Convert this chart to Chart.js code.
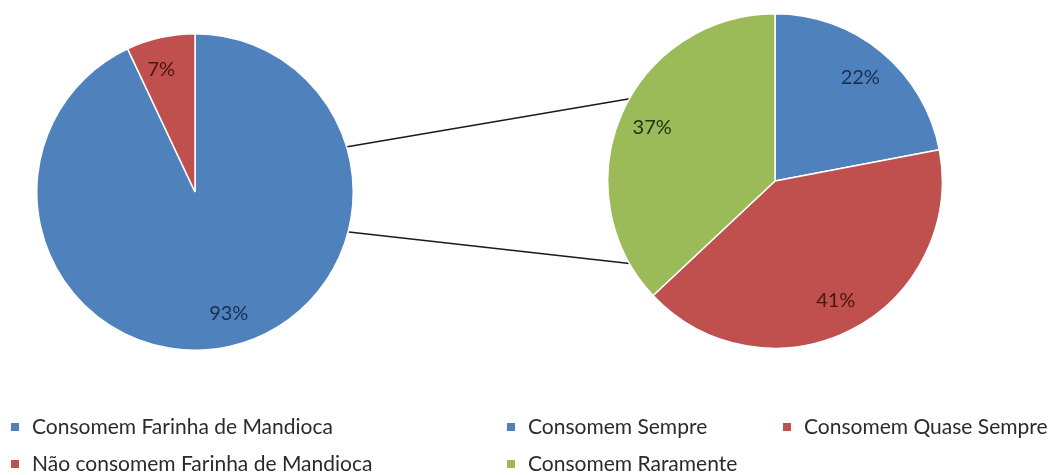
<!DOCTYPE html>
<html>
<head>
<meta charset="utf-8">
<script src="https://cdn.jsdelivr.net/npm/chart.js@4.4.0/dist/chart.umd.min.js"></script>
<style>
  body { margin: 0; background: #fff; width: 1053px; height: 475px; position: relative; overflow: hidden; font-family: Lato, "Open Sans", sans-serif; }
  #linhas { position: absolute; left: 0; top: 0; }
  .pie { position: absolute; }
  .leg { position: absolute; font-size: 21px; color: #2b2b2b; white-space: nowrap; line-height: 22px; }
  .leg i { display: inline-block; width: 8px; height: 8px; margin-right: 13px; vertical-align: 3px; }
</style>
</head>
<body>
<canvas id="linhas" width="1053" height="475"></canvas>
<div class="pie" style="left:36px; top:33px; width:318px; height:318px;"><canvas id="pieA"></canvas></div>
<div class="pie" style="left:607px; top:13px; width:336px; height:336px;"><canvas id="pieB"></canvas></div>
<div id="legenda"></div>
<script>
// dados do grafico principal
const categoriasA = ['Consomem Farinha de Mandioca', 'Não consomem Farinha de Mandioca'];
const valoresA = [93, 7];
const coresA = ['#4F81BD', '#C0504D'];
const rotuloCorA = ['#17304f', '#4a1513'];

// dados do grafico de detalhe
const categoriasB = ['Consomem Sempre', 'Consomem Quase Sempre', 'Consomem Raramente'];
const valoresB = [22, 41, 37];
const coresB = ['#4F81BD', '#C0504D', '#9BBB59'];
const rotuloCorB = ['#17304f', '#4a1513', '#25320e'];

// linhas de ligacao entre as pizzas
const lc = document.getElementById('linhas').getContext('2d');
lc.strokeStyle = '#1a1a1a';
lc.lineWidth = 1.4;
lc.beginPath();
lc.moveTo(340, 148); lc.lineTo(634, 98);
lc.moveTo(340, 231); lc.lineTo(634, 264);
lc.stroke();

// rotulos de porcentagem dentro das fatias
const rotulos = {
    id: 'rotulos',
    afterDatasetsDraw(chart, args, opts) {
        const ctx = chart.ctx;
        const meta = chart.getDatasetMeta(0);
        ctx.save();
        ctx.font = '20px Lato, "Open Sans", sans-serif';
        ctx.textAlign = 'center';
        ctx.textBaseline = 'middle';
        meta.data.forEach((arc, i) => {
            const p = arc.getProps(['x', 'y', 'startAngle', 'endAngle', 'outerRadius']);
            const a = (p.startAngle + p.endAngle) / 2 + (opts.giro || 0);
            const r = p.outerRadius * 0.8;
            ctx.fillStyle = opts.cores[i];
            ctx.fillText(chart.data.datasets[0].data[i] + '%', p.x + Math.cos(a) * r, p.y + Math.sin(a) * r);
        });
        ctx.restore();
    }
};

function fazPizza(id, categorias, valores, cores, corRotulo, giro) {
    return new Chart(document.getElementById(id), {
        type: 'pie',
        data: {
            labels: categorias,
            datasets: [{
                data: valores,
                backgroundColor: cores,
                borderColor: '#ffffff',
                borderWidth: 1.5
            }]
        },
        options: {
            responsive: true,
            maintainAspectRatio: false,
            animation: false,
            layout: { padding: 0 },
            plugins: {
                legend: { display: false },
                tooltip: { enabled: false },
                rotulos: { cores: corRotulo, giro: giro }
            }
        },
        plugins: [rotulos]
    });
}

fazPizza('pieA', categoriasA, valoresA, coresA, rotuloCorA, -0.05);
fazPizza('pieB', categoriasB, valoresB, coresB, rotuloCorB, 0);

// legenda em html
const posLegenda = [
    [categoriasA[0], coresA[0], 11, 415],
    [categoriasA[1], coresA[1], 11, 452],
    [categoriasB[0], coresB[0], 507, 415],
    [categoriasB[1], coresB[1], 783, 415],
    [categoriasB[2], coresB[2], 507, 452]
];
const leg = document.getElementById('legenda');
posLegenda.forEach(([txt, cor, x, y]) => {
    const d = document.createElement('div');
    d.className = 'leg';
    d.style.left = x + 'px';
    d.style.top = y + 'px';
    d.innerHTML = '<i style="background:' + cor + '"></i>' + txt;
    leg.appendChild(d);
});
</script>
</body>
</html>
